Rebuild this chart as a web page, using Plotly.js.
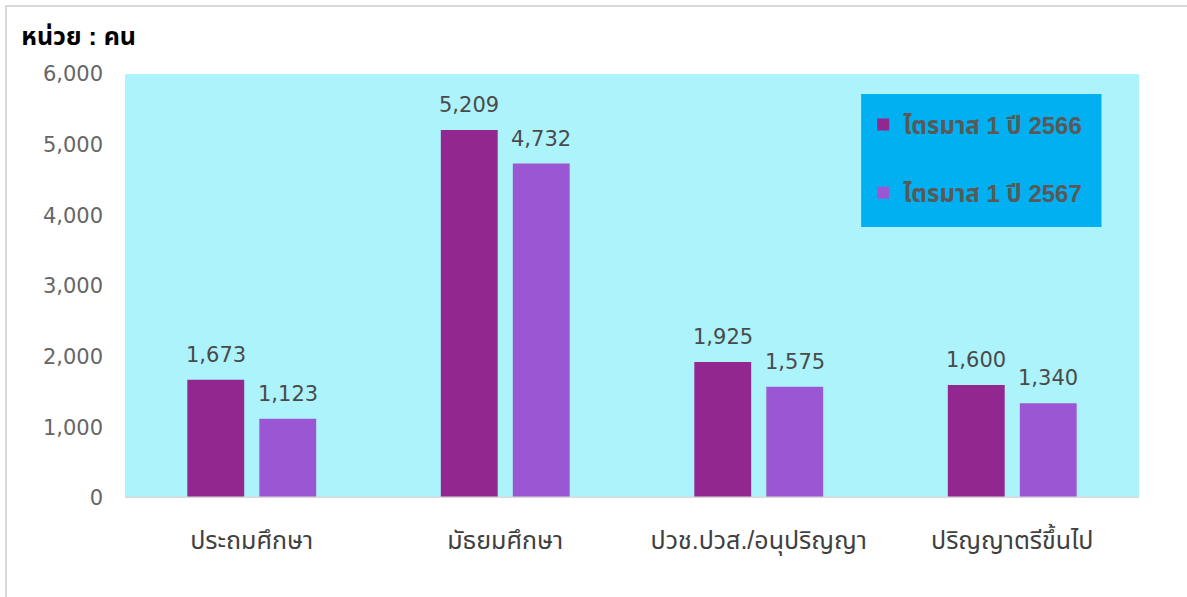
<!DOCTYPE html>
<html>
<head>
<meta charset="utf-8">
<script src="https://cdn.plot.ly/plotly-3.0.1.min.js"></script>
<style>
html,body{margin:0;padding:0;background:#fff;}
#wrap{position:relative;width:1187px;height:597px;overflow:hidden;}
#frame{position:absolute;left:5px;top:5px;width:1200px;height:620px;border-top:2px solid #d9d9d9;border-left:2px solid #d9d9d9;box-sizing:border-box;pointer-events:none;z-index:5;}
#chart{width:1187px;height:597px;}
</style>
</head>
<body>
<div id="wrap">
<div id="frame"></div>
<div id="chart"></div>
</div>
<script>
const categories = ["ประถมศึกษา", "มัธยมศึกษา", "ปวช.ปวส./อนุปริญญา", "ปริญญาตรีขึ้นไป"];
const series1Name = "ไตรมาส 1 ปี 2566";
const series2Name = "ไตรมาส 1 ปี 2567";
const series1 = [1673, 5209, 1925, 1600];
const series2 = [1123, 4732, 1575, 1340];
const yTicks = [0, 1000, 2000, 3000, 4000, 5000, 6000];

const fontFam = "'Liberation Sans', Arial, 'Noto Sans Thai', 'DejaVu Sans', sans-serif";
const numFam = "'DejaVu Sans', 'Liberation Sans', sans-serif";
const fmt = v => v.toLocaleString('en-US');

const traces = [
  {type:'bar', name:series1Name, x:categories, y:series1, marker:{color:'#92278F'},
   legendgroup:'a', hoverinfo:'none', offsetgroup:'a'},
  {type:'bar', name:series2Name, x:categories, y:series2, marker:{color:'#9B57D3'},
   legendgroup:'b', hoverinfo:'none', offsetgroup:'b'}
];

const annotations = [];
[[series1,-36],[series2,36]].forEach(([vals,dx]) => {
  vals.forEach((v,i) => annotations.push({
    x:categories[i], y:v, xref:'x', yref:'y', text:fmt(v), showarrow:false,
    xanchor:'center', yanchor:'bottom', xshift:dx, yshift:11,
    font:{size:21, color:'#4a4a4a', family:numFam}
  }));
});

const layout = {
  width:1187, height:597,
  margin:{l:125, r:48, t:74, b:99},
  paper_bgcolor:'rgba(0,0,0,0)',
  plot_bgcolor:'#ADF3FC',
  barmode:'group', bargap:0.432, bargroupgap:0.21,
  font:{family:fontFam, color:'#595959'},
  title:{text:'<b>หน่วย : คน</b>', x:0.018, xanchor:'left', y:0.94, yanchor:'middle',
         font:{size:25, color:'#000000', family:fontFam}},
  xaxis:{type:'category', showgrid:false, zeroline:false, showline:false,
         tickfont:{size:25, color:'#404040', family:fontFam}, ticks:'',
         ticklabelstandoff:25, automargin:false},
  yaxis:{range:[0,6000], tickvals:yTicks, ticktext:yTicks.map(fmt), showgrid:false, zeroline:false,
         showline:false, ticks:'', tickfont:{size:21, color:'#666666', family:numFam},
         ticklabelstandoff:21, automargin:false},
  showlegend:true,
  legend:{x:0.728, xanchor:'left', y:0.933, yanchor:'top', bgcolor:'rgba(0,0,0,0)',
          font:{size:24, color:'#595959', family:fontFam, weight:'bold'}, traceorder:'grouped',
          tracegroupgap:34, borderwidth:0},
  annotations:annotations,
  shapes:[
    {type:'rect', xref:'paper', yref:'paper', x0:0.726, x1:0.963, y0:0.639, y1:0.953,
     fillcolor:'#00B0F0', line:{width:0}, layer:'below'},
    {type:'line', xref:'paper', yref:'y', x0:0, x1:1, y0:0, y1:0, line:{color:'#d9d9d9', width:3}}
  ]
};

Plotly.newPlot('chart', traces, layout, {displayModeBar:false, staticPlot:true});
</script>
</body>
</html>
